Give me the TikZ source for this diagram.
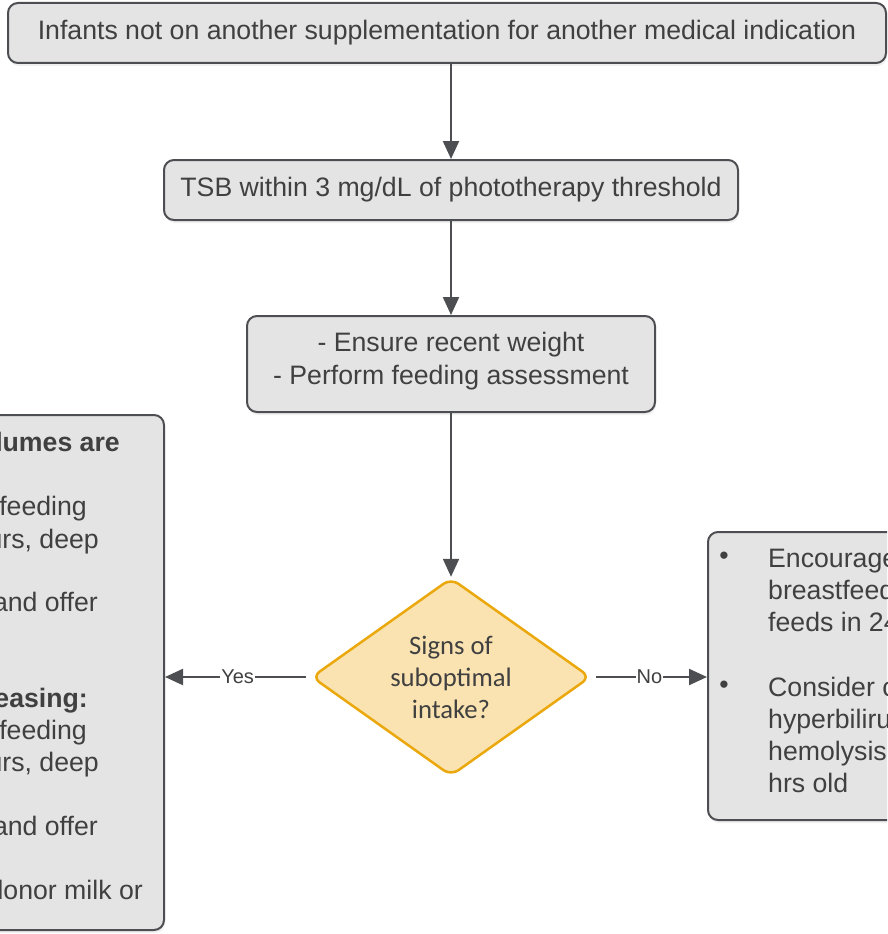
\documentclass[tikz,border=0pt]{standalone}
\usepackage{fontspec}
\setmainfont{Liberation Sans}
\newfontfamily\calibri{Carlito}
\usetikzlibrary{positioning, shapes.geometric, arrows.meta, shadows}

\definecolor{linegray}{HTML}{4D4E52}
\definecolor{textgray}{HTML}{404040}
\definecolor{boxgray}{HTML}{E4E4E4}
\definecolor{decfill}{HTML}{FAE3B1}
\definecolor{decline}{HTML}{EAA80C}

\tikzset{
    box/.style={draw=linegray, fill=boxgray, line width=2pt, rounded corners=10pt,
        text=textgray, align=center, inner sep=0pt,
        font=\fontsize{26.67}{33}\selectfont,
        drop shadow={opacity=0.12, shadow xshift=1pt, shadow yshift=-3pt}},
    decision/.style={diamond, draw=decline, fill=decfill, line width=2.5pt,
        rounded corners=9pt, inner sep=0pt, minimum width=279pt, minimum height=198pt},
    dectext/.style={text=textgray, align=center, inner sep=0pt,
        font=\calibri\fontsize{26.67}{32}\selectfont},
    frag/.style={text=textgray, inner sep=0pt, font=\fontsize{26.67}{33}\selectfont},
    arr/.style={draw=linegray, line width=2.2pt, -{Triangle[width=16pt, length=18pt]}},
    lbl/.style={fill=white, text=textgray, inner sep=1pt, font=\fontsize{20}{24}\selectfont}
}

\begin{document}
\begin{tikzpicture}[x=1pt, y=-1pt]
    \path[use as bounding box] (0,0) rectangle (887,934);
    \clip (0,0) rectangle (887,934);

    % main column
    \node[box, minimum width=878pt, minimum height=60pt] (infants) at (447,33)
        {Infants not on another supplementation for another medical indication};
    \node[box, minimum width=574pt, minimum height=60pt] (tsb) at (451,190)
        {TSB within 3 mg/dL of phototherapy threshold};
    \node[box, minimum width=408pt, minimum height=96pt] (assess) at (451,364) {};
    \node[frag, align=center] (assesstext) at (451,361)
        {- Ensure recent weight\\- Perform feeding assessment};
    \node[decision] (intake) at (451,677) {};
    \node[dectext] (intaketext) at (intake.center) {Signs of\\suboptimal\\intake?};

    % side boxes, cut by the page edge
    \node[box, minimum width=184pt, minimum height=515pt] (yesbox) at (72,672.5) {};
    \node[box, minimum width=197pt, minimum height=288pt] (nobox) at (806.5,676) {};

    % left box text
    \node[frag, anchor=base east, font=\bfseries\fontsize{26.67}{33}\selectfont] (y1) at (120,451) {lumes are};
    \node[frag, anchor=base east] (y2) at (87,515) {tfeeding};
    \node[frag, anchor=base east] (y3) at (99,548) {urs, deep};
    \node[frag, anchor=base east] (y4) at (98,611) {and offer};
    \node[frag, anchor=base east, font=\bfseries\fontsize{26.67}{33}\selectfont] (y5) at (88,707) {easing:};
    \node[frag, anchor=base east] (y6) at (87,739) {tfeeding};
    \node[frag, anchor=base east] (y7) at (99,771) {urs, deep};
    \node[frag, anchor=base east] (y8) at (98,835) {and offer};
    \node[frag, anchor=base east] (y9) at (143,899) {donor milk or};

    % right box text
    \node[frag] (b1) at (724,558) {\textbullet};
    \node[frag] (b2) at (724,687) {\textbullet};
    \node[frag, anchor=base west] (n1) at (768,567) {Encourage};
    \node[frag, anchor=base west] (n2) at (768,599) {breastfeeding};
    \node[frag, anchor=base west] (n3) at (768,631) {feeds in 24};
    \node[frag, anchor=base west] (n4) at (768,696) {Consider causes};
    \node[frag, anchor=base west] (n5) at (768,728) {hyperbilirubinemia};
    \node[frag, anchor=base west] (n6) at (768,760) {hemolysis};
    \node[frag, anchor=base west] (n7) at (768,792) {hrs old};

    % connectors
    \draw[arr] (tsb.north |- infants.south) -- (tsb.north);
    \draw[arr] (tsb.south) -- (assess.north);
    \draw[arr] (assess.south) -- (intake.north);
    \draw[arr, shorten <=4pt] (intake.west) -- node[lbl] {Yes} (intake.west -| yesbox.east);
    \draw[arr, shorten <=4pt] (intake.east) -- node[lbl] {No} (intake.east -| nobox.west);
\end{tikzpicture}
\end{document}
